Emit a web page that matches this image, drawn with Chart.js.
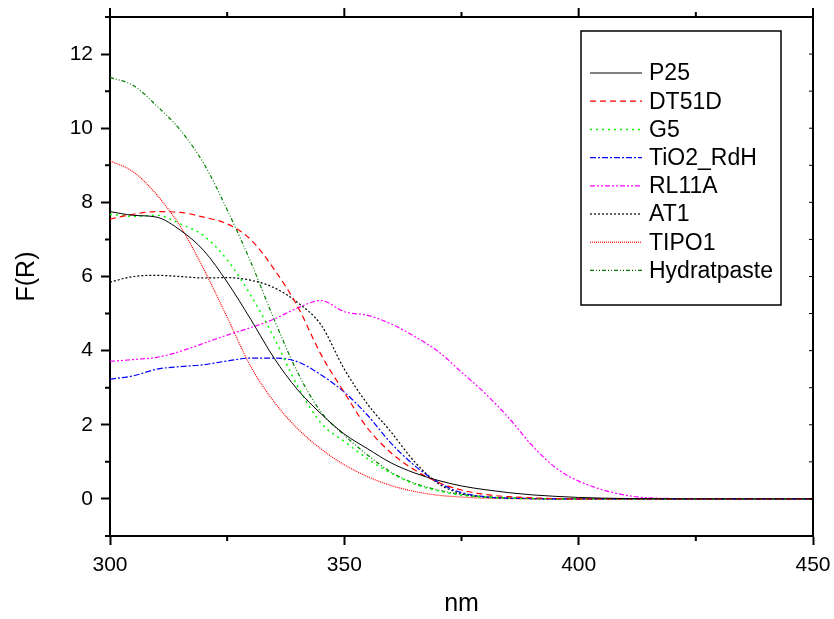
<!DOCTYPE html>
<html>
<head>
<meta charset="utf-8">
<script src="https://cdn.jsdelivr.net/npm/chart.js@4.4.1/dist/chart.umd.min.js"></script>
<style>
  html, body { margin: 0; padding: 0; background: #fff; }
  #wrap { width: 834px; height: 619px; }
</style>
</head>
<body>
<div id="wrap"><canvas id="myChart" width="834" height="619"></canvas></div>
<script>
// wavelength (nm)
const wavelength = [300, 305, 310, 315, 320, 325, 330, 335, 340, 345, 350, 355, 360, 365, 370, 375, 380, 385, 390, 395, 400, 410, 420, 430, 440, 450];

// F(R) values per sample
const p25        = [7.75, 7.65, 7.6, 7.25, 6.7, 5.85, 4.85, 3.8, 2.95, 2.3, 1.75, 1.35, 0.97, 0.7, 0.5, 0.35, 0.25, 0.17, 0.11, 0.07, 0.04, 0.01, 0, 0, 0, 0];
const dt51d      = [7.55, 7.68, 7.75, 7.73, 7.6, 7.42, 7.0, 6.2, 5.2, 3.9, 2.87, 1.9, 1.24, 0.78, 0.45, 0.24, 0.12, 0.06, 0.03, 0.01, 0, 0, 0, 0, 0, 0];
const g5         = [7.68, 7.62, 7.65, 7.42, 7.1, 6.45, 5.5, 4.35, 3.05, 2.05, 1.55, 1.08, 0.69, 0.4, 0.22, 0.1, 0.05, 0.02, 0.01, 0, 0, 0, 0, 0, 0, 0];
const tio2Rdh    = [3.23, 3.32, 3.5, 3.57, 3.62, 3.72, 3.8, 3.8, 3.7, 3.35, 2.88, 2.25, 1.5, 0.9, 0.45, 0.17, 0.06, 0.02, 0.01, 0, 0, 0, 0, 0, 0, 0];
const rl11a      = [3.71, 3.76, 3.82, 3.98, 4.2, 4.42, 4.62, 4.85, 5.15, 5.35, 5.05, 4.95, 4.72, 4.38, 3.98, 3.42, 2.85, 2.2, 1.45, 0.85, 0.48, 0.1, 0.01, 0, 0, 0];
const at1        = [5.85, 6.0, 6.03, 6.0, 5.96, 5.97, 5.9, 5.7, 5.3, 4.7, 3.5, 2.55, 1.8, 1.0, 0.42, 0.14, 0.05, 0.02, 0.01, 0, 0, 0, 0, 0, 0, 0];
const tipo1      = [9.12, 8.82, 8.2, 7.35, 6.2, 4.9, 3.58, 2.62, 1.9, 1.35, 0.92, 0.6, 0.36, 0.2, 0.1, 0.05, 0.02, 0.01, 0, 0, 0, 0, 0, 0, 0, 0];
const hydrat     = [11.37, 11.15, 10.6, 9.95, 9.05, 7.8, 6.4, 4.85, 3.42, 2.35, 1.72, 1.18, 0.72, 0.42, 0.24, 0.12, 0.06, 0.03, 0.01, 0, 0, 0, 0, 0, 0, 0];

const xTicks = [300, 350, 400, 450];
const xMinor = [325, 375, 425];
const yTicks = [0, 2, 4, 6, 8, 10, 12];
const yMinor = [-1, 1, 3, 5, 7, 9, 11, 13];

const FONT = "'Liberation Sans', Arial, sans-serif";

function pts(arr) {
    return arr.map((v, i) => ({x: wavelength[i], y: v}));
}

function series(label, arr, color, dash, width) {
    return {
        label: label,
        data: pts(arr),
        borderColor: color,
        backgroundColor: color,
        borderDash: dash,
        borderWidth: width,
        pointRadius: 0,
        fill: false,
        cubicInterpolationMode: 'monotone'
    };
}

const data = {
    datasets: [
        series('P25', p25, '#000000', [], 1),
        series('DT51D', dt51d, '#ff0000', [6, 4], 1.2),
        series('G5', g5, '#00ff00', [2, 4], 1.5),
        series('TiO2_RdH', tio2Rdh, '#0000ff', [6, 2, 2, 2], 1.2),
        series('RL11A', rl11a, '#ff00ff', [5, 2, 2, 2, 2, 2], 1.2),
        series('AT1', at1, '#000000', [2, 2], 1.2),
        series('TIPO1', tipo1, '#ff0000', [1, 1], 1.2),
        series('Hydratpaste', hydrat, '#008000', [4, 2, 1, 2, 1, 2], 1.2),
    ]
};

// frame, minor ticks and the boxed legend
const frameAndLegend = {
    id: 'frameAndLegend',
    afterDraw(chart) {
        const {ctx, chartArea: a, scales: {x, y}} = chart;
        ctx.save();
        ctx.strokeStyle = '#000';
        ctx.lineWidth = 2;
        ctx.setLineDash([]);
        ctx.beginPath();
        // top + right border
        ctx.moveTo(a.left, a.top); ctx.lineTo(a.right, a.top);
        ctx.moveTo(a.right, a.top - 4); ctx.lineTo(a.right, a.bottom);
        // top major ticks (outward)
        xTicks.forEach(v => {
            const px = x.getPixelForValue(v);
            ctx.moveTo(px, a.top); ctx.lineTo(px, a.top - 9);
        });
        // minor x ticks
        xMinor.forEach(v => {
            const px = x.getPixelForValue(v);
            ctx.moveTo(px, a.bottom); ctx.lineTo(px, a.bottom + 5);
            ctx.moveTo(px, a.top); ctx.lineTo(px, a.top - 5);
        });
        // minor y ticks left
        yMinor.forEach(v => {
            const py = y.getPixelForValue(v);
            ctx.moveTo(a.left, py); ctx.lineTo(a.left - 5, py);
        });
        ctx.stroke();
        // right side ticks (inward, thin)
        ctx.lineWidth = 1;
        ctx.beginPath();
        for (let v = 0; v <= 12; v++) {
            const py = y.getPixelForValue(v);
            ctx.moveTo(a.right, py); ctx.lineTo(a.right - 4, py);
        }
        ctx.stroke();

        // legend box
        const bx = 581, by = 31, bw = 200, bh = 274;
        ctx.lineWidth = 1.5;
        ctx.strokeRect(bx, by, bw, bh);
        ctx.font = '23px ' + FONT;
        ctx.textBaseline = 'middle';
        ctx.textAlign = 'left';
        chart.data.datasets.forEach((ds, i) => {
            const ry = 73 + i * 28.2;
            ctx.strokeStyle = ds.borderColor;
            ctx.lineWidth = ds.borderWidth;
            ctx.setLineDash(ds.borderDash);
            ctx.beginPath();
            ctx.moveTo(590, ry);
            ctx.lineTo(642, ry);
            ctx.stroke();
            ctx.setLineDash([]);
            ctx.fillStyle = '#000';
            ctx.fillText(ds.label, 649, ry + 1);
        });
        ctx.restore();
    }
};

const config = {
    type: 'line',
    data,
    options: {
        responsive: false,
        animation: false,
        layout: { padding: { top: 17, right: 21, left: 0, bottom: 0 } },
        plugins: {
            legend: { display: false },
            tooltip: { enabled: false }
        },
        scales: {
            x: {
                type: 'linear',
                min: 300,
                max: 450,
                afterBuildTicks: (scale) => { scale.ticks = xTicks.map(v => ({value: v})); },
                afterFit: (scale) => {
                    scale.height = 83;
                    scale.paddingLeft = 0;
                    scale.paddingRight = 0;
                },
                ticks: {
                    color: '#000',
                    font: { family: FONT, size: 21 },
                    padding: 8,
                    maxRotation: 0,
                    autoSkip: false
                },
                grid: {
                    drawOnChartArea: false,
                    drawTicks: true,
                    tickLength: 9,
                    tickWidth: 2,
                    tickColor: '#000'
                },
                border: { display: true, color: '#000', width: 2 },
                title: {
                    display: true,
                    text: 'nm',
                    color: '#000',
                    font: { family: FONT, size: 25, lineHeight: 1 },
                    padding: { top: 0, bottom: 2 }
                }
            },
            y: {
                type: 'linear',
                min: -1,
                max: 13,
                afterBuildTicks: (scale) => {
                    scale.ticks = yTicks.map(v => ({value: v}));
                },
                afterFit: (scale) => {
                    scale.width = 110;
                    scale.paddingTop = 0;
                    scale.paddingBottom = 0;
                },
                ticks: {
                    color: '#000',
                    font: { family: FONT, size: 21 },
                    padding: 8
                },
                grid: {
                    drawOnChartArea: false,
                    drawTicks: true,
                    tickLength: 9,
                    tickWidth: 2,
                    tickColor: '#000'
                },
                border: { display: true, color: '#000', width: 2 },
                title: {
                    display: true,
                    text: 'F(R)',
                    color: '#000',
                    font: { family: FONT, size: 25, lineHeight: 1 },
                    padding: { top: 15, bottom: 0 }
                }
            }
        }
    },
    plugins: [frameAndLegend]
};

var myChart = new Chart(
    document.getElementById('myChart'),
    config
);
</script>
</body>
</html>
